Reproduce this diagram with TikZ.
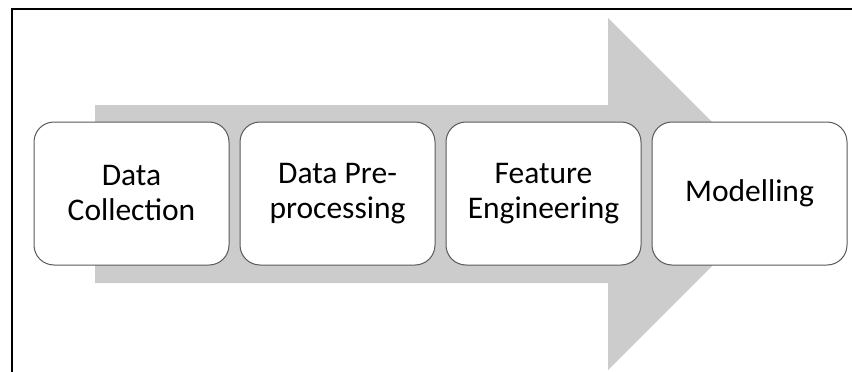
\documentclass[tikz,border=0pt]{standalone}
\usepackage{fontspec}
\setmainfont{Carlito}
\usepackage{tikz}
\usetikzlibrary{positioning}
\definecolor{flowgray}{RGB}{204, 204, 204}
\definecolor{boxedge}{RGB}{90, 90, 90}
\tikzset{
    stagebox/.style={rectangle, rounded corners=20pt, draw=boxedge, line width=1pt, fill=white,
        minimum width=195pt, minimum height=143pt, align=center,
        font=\fontsize{31.5}{35}\selectfont},
    frameline/.style={black, line width=2pt}
}

\begin{document}
\begin{tikzpicture}[x=1pt, y=-1pt]
    \useasboundingbox (0,0) rectangle (852,372);
    % big gray arrow behind the stages
    \fill[flowgray] (95,105) -- (608,105) -- (608,18) -- (784,194)
        -- (608,370) -- (608,283) -- (95,283) -- cycle;
    \draw[frameline] (12,372) -- (12,9) -- (852,9);
    \node[stagebox] (collect) at (131.5,193.5) {Data\\Collection};
    \node[stagebox, right=10pt of collect] (prep) {Data Pre-\\processing};
    \node[stagebox, right=10pt of prep] (feat) {Feature\\Engineering};
    \node[stagebox, right=10pt of feat] (model) {Modelling};
\end{tikzpicture}
\end{document}
